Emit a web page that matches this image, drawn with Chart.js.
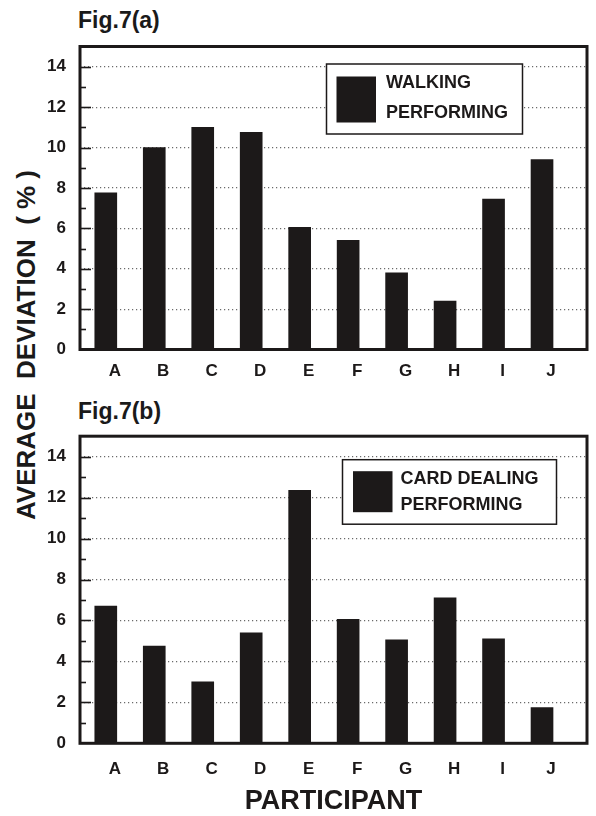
<!DOCTYPE html>
<html>
<head>
<meta charset="utf-8">
<script src="https://cdn.jsdelivr.net/npm/chart.js@4/dist/chart.umd.min.js"></script>
<style>
  html, body { margin: 0; padding: 0; background: #fff; }
  #page { position: relative; width: 596px; height: 816px; overflow: hidden; font-family: "Liberation Sans", Arial, sans-serif; color: #1a1a1a; }
  canvas { position: absolute; left: 0; }
  .fig { position: absolute; left: 78px; font-size: 23px; font-weight: bold; line-height: 23px; white-space: nowrap; }
  #ytitle { position: absolute; width: 420px; left: -184px; top: 332px; height: 26px; line-height: 26px; text-align: center;
            font-size: 26px; font-weight: bold; white-space: pre; transform: rotate(-90deg); transform-origin: 50% 50%; }
</style>
</head>
<body>
<div id="page">
  <div class="fig" style="top:9px">Fig.7(a)</div>
  <div class="fig" style="top:400px">Fig.7(b)</div>
  <div id="ytitle">AVERAGE  DEVIATION  ( % )</div>
  <canvas id="chartA" width="596" height="390" style="top:0"></canvas>
  <canvas id="chartB" width="596" height="426" style="top:390px"></canvas>
</div>
<script>
// Participants and average deviation (%) per task
const categories = ['A', 'B', 'C', 'D', 'E', 'F', 'G', 'H', 'I', 'J'];
const walkingDeviation = [7.75, 10.0, 11.0, 10.75, 6.05, 5.4, 3.8, 2.4, 7.45, 9.4];
const cardDealingDeviation = [6.7, 4.75, 3.0, 5.4, 12.35, 6.05, 5.05, 7.1, 5.1, 1.75];
const walkingLegend = ['WALKING', 'PERFORMING'];
const cardDealingLegend = ['CARD DEALING', 'PERFORMING'];
const yLabelValues = [0, 2, 4, 6, 8, 10, 12, 14];

const INK = '#1c1919';
const FONT = '"Liberation Sans", Arial, sans-serif';

// Heavy frame around the plot plus short inward tick marks on the left edge
const framePlugin = {
  id: 'frame',
  afterDatasetsDraw(chart) {
    const { ctx, chartArea: a, scales: { y } } = chart;
    ctx.save();
    ctx.strokeStyle = INK;
    ctx.lineWidth = 1.6;
    for (let v = 1; v < y.max; v++) {
      const py = Math.round(y.getPixelForValue(v)) + 0.5;
      const len = yLabelValues.includes(v) ? 11 : 6;
      ctx.beginPath();
      ctx.moveTo(a.left, py);
      ctx.lineTo(a.left + len, py);
      ctx.stroke();
    }
    ctx.lineWidth = 3;
    ctx.strokeRect(a.left, a.top, a.right - a.left, a.bottom - a.top);
    ctx.restore();
  }
};

// Boxed legend: filled swatch with a two-line label
const boxLegendPlugin = {
  id: 'boxLegend',
  afterDatasetsDraw(chart, args, opts) {
    const { ctx, chartArea: a } = chart;
    const x = a.left + opts.left, y = a.top + opts.top;
    ctx.save();
    ctx.fillStyle = '#fff';
    ctx.fillRect(x, y, opts.width, opts.height);
    ctx.strokeStyle = INK;
    ctx.lineWidth = 1.5;
    ctx.strokeRect(x, y, opts.width, opts.height);
    ctx.fillStyle = chart.data.datasets[0].backgroundColor;
    ctx.fillRect(x + opts.swatch[0], y + opts.swatch[1], opts.swatch[2], opts.swatch[3]);
    ctx.fillStyle = INK;
    ctx.font = 'bold 18px ' + FONT;
    ctx.textBaseline = 'middle';
    ctx.textAlign = 'left';
    opts.lines.forEach((t, i) => ctx.fillText(t, x + opts.textX, y + opts.lineY[i]));
    ctx.restore();
  }
};

function makeChart(id, values, label, legendOpts, layoutTop, xAxisHeight, labelPad, showTitle) {
  return new Chart(document.getElementById(id), {
    type: 'bar',
    data: {
      datasets: [{
        label: label,
        data: categories.map((c, i) => ({ x: i, y: values[i] })),
        backgroundColor: INK,
        borderWidth: 0,
        barThickness: 22
      }]
    },
    options: {
      responsive: false,
      animation: false,
      devicePixelRatio: 1,
      layout: { padding: { top: layoutTop, right: 9, left: 0, bottom: 0 } },
      plugins: {
        legend: { display: false },
        tooltip: { enabled: false },
        boxLegend: legendOpts
      },
      scales: {
        x: {
          type: 'linear',
          offset: false,
          min: -0.532,
          max: 9.928,
          afterBuildTicks: (s) => { s.ticks = categories.map((c, i) => ({ value: i })); },
          afterFit: (s) => { s.height = xAxisHeight; },
          grid: { display: false, drawTicks: false, offset: false },
          border: { display: false },
          ticks: {
            padding: labelPad,
            labelOffset: 9,
            maxRotation: 0,
            autoSkip: false,
            color: INK,
            font: { family: FONT, size: 17, weight: 'bold' },
            callback: (v) => categories[v] ?? ''
          },
          title: {
            display: showTitle,
            text: 'PARTICIPANT',
            color: INK,
            font: { family: FONT, size: 27, weight: 'bold', lineHeight: 1 },
            padding: { top: 0, bottom: 1 }
          }
        },
        y: {
          min: 0,
          max: 15,
          afterFit: (s) => { s.width = 80; },
          grid: {
            drawTicks: false,
            lineWidth: 1.2,
            color: (c) => (c.tick && yLabelValues.includes(c.tick.value) && c.tick.value > 0) ? '#6a6a6a' : 'rgba(0,0,0,0)'
          },
          border: { display: false, dash: [1.2, 2.8] },
          ticks: {
            stepSize: 1,
            padding: 14,
            color: INK,
            font: { family: FONT, size: 17, weight: 'bold' },
            callback: (v) => yLabelValues.includes(v) ? String(v) : ''
          }
        }
      }
    },
    plugins: [framePlugin, boxLegendPlugin]
  });
}

makeChart('chartA', walkingDeviation, 'WALKING PERFORMING', {
  left: 246.5, top: 17.5, width: 196, height: 70,
  swatch: [10, 12.5, 39.5, 46], textX: 59.5, lineY: [19.5, 49], lines: walkingLegend
}, 46.5, 40.5, 12, false);

makeChart('chartB', cardDealingDeviation, 'CARD DEALING PERFORMING', {
  left: 262.5, top: 23.5, width: 214, height: 64.5,
  swatch: [10.5, 11.5, 39.5, 41], textX: 58, lineY: [19.5, 45], lines: cardDealingLegend
}, 46.2, 72.7, 16, true);
</script>
</body>
</html>
